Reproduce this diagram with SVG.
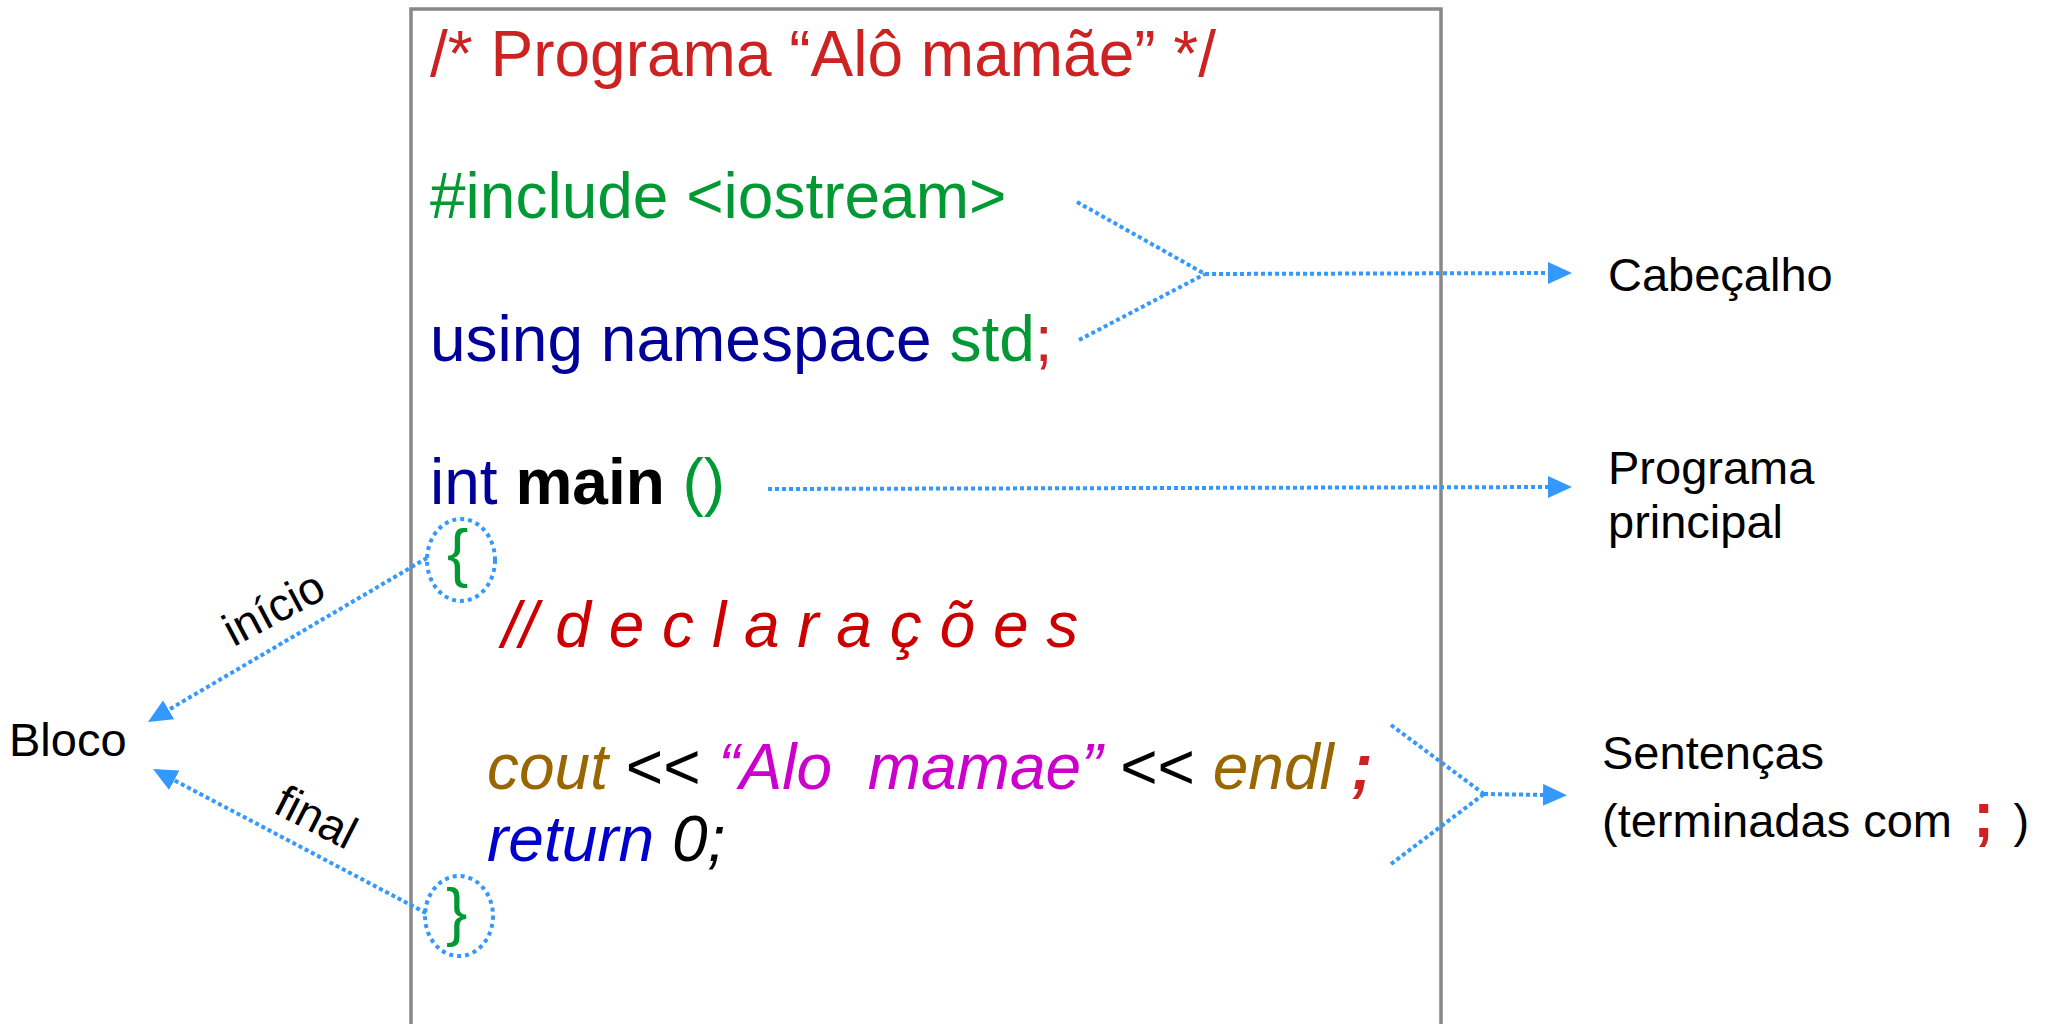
<svg xmlns="http://www.w3.org/2000/svg" width="2045" height="1024" viewBox="0 0 2045 1024">
  <style>
    .code { font-family: "Liberation Sans", Arial, sans-serif; font-size: 64px; }
    .label { font-family: "Liberation Sans", Arial, sans-serif; font-size: 47px; fill: #000; }
    .edge-label { font-family: "Liberation Sans", Arial, sans-serif; font-size: 46px; fill: #000; }
    .it { font-style: italic; }
    .b { font-weight: bold; }
    .red { fill: #CC2222; }
    .dred { fill: #CC0000; }
    .green { fill: #009933; }
    .navy { fill: #000099; }
    .blue { fill: #0000CC; }
    .brown { fill: #996600; }
    .magenta { fill: #CC00CC; }
    .black { fill: #000; }
    .dots { fill: none; stroke: #3399FF; stroke-width: 4; stroke-dasharray: 4 3; }
    .ring { fill: none; stroke: #3399FF; stroke-width: 4; stroke-dasharray: 4 4; }
  </style>
  <defs>
    <marker id="arrow" markerUnits="userSpaceOnUse" markerWidth="24" markerHeight="22" viewBox="0 0 24 22" refX="4" refY="11" orient="auto">
      <path d="M0,0 L24,11 L0,22 Z" fill="#3399FF"/>
    </marker>
  </defs>

  <rect width="2045" height="1024" fill="#fff"/>

  <!-- program listing frame (open at the bottom) -->
  <g id="code-box">
    <path d="M411,1030 V9 H1441 V1030" fill="none" stroke="#888" stroke-width="3.5"/>
    <text class="code red" x="430" y="76">/* Programa “Alô mamãe” */</text>
    <text class="code green" x="430" y="218">#include &lt;iostream&gt;</text>
    <text class="code" x="430" y="361"><tspan class="navy">using namespace </tspan><tspan class="green">std</tspan><tspan class="red">;</tspan></text>
    <text class="code" x="430" y="504"><tspan class="navy">int </tspan><tspan class="b black">main </tspan><tspan class="green">()</tspan></text>
    <text class="code it dred" x="502" y="647">// d e c l a r a ç õ e s</text>
    <text class="code it" x="487" y="789" xml:space="preserve"><tspan class="brown">cout</tspan><tspan class="black" style="font-style:normal"> &lt;&lt; </tspan><tspan class="magenta">“Alo  mamae”</tspan><tspan class="black" style="font-style:normal"> &lt;&lt; </tspan><tspan class="brown">endl </tspan><tspan class="red b">;</tspan></text>
    <text class="code it" x="487" y="861"><tspan class="blue">return </tspan><tspan class="black">0;</tspan></text>
  </g>

  <!-- block delimiters -->
  <g id="brace-open">
    <text class="code green" x="447" y="575">{</text>
    <ellipse class="ring" cx="461" cy="560" rx="34" ry="41"/>
  </g>
  <g id="brace-close">
    <text class="code green" x="446" y="934">}</text>
    <ellipse class="ring" cx="459" cy="916" rx="34" ry="40"/>
  </g>

  <!-- annotation labels -->
  <g id="cabecalho">
    <text class="label" x="1608" y="291">Cabeçalho</text>
  </g>
  <g id="programa-principal">
    <text class="label" x="1608" y="484">Programa</text>
    <text class="label" x="1608" y="538">principal</text>
  </g>
  <g id="sentencas">
    <text class="label" x="1602" y="769">Sentenças</text>
    <text class="label" x="1602" y="837" xml:space="preserve">(terminadas com <tspan class="red b" style="font-size:64px" dx="8">;</tspan><tspan dx="6"> )</tspan></text>
  </g>
  <g id="bloco">
    <text class="label" x="9" y="756">Bloco</text>
  </g>

  <!-- connectors -->
  <g id="connectors">
    <line class="dots" x1="1077" y1="202" x2="1205" y2="274"/>
    <line class="dots" x1="1079" y1="340" x2="1205" y2="274"/>
    <line class="dots" x1="1205" y1="274" x2="1552" y2="273" marker-end="url(#arrow)"/>

    <line class="dots" x1="768" y1="489" x2="1552" y2="487" marker-end="url(#arrow)"/>

    <line class="dots" x1="1391" y1="725" x2="1484" y2="794"/>
    <line class="dots" x1="1391" y1="864" x2="1484" y2="794"/>
    <line class="dots" x1="1484" y1="794" x2="1547" y2="795" marker-end="url(#arrow)"/>

    <line class="dots" x1="427" y1="558" x2="165.2" y2="711.8" marker-end="url(#arrow)"/>
    <line class="dots" x1="426" y1="913" x2="170.7" y2="778.4" marker-end="url(#arrow)"/>

    <text class="edge-label" text-anchor="middle" transform="translate(281,622) rotate(-28)">início</text>
    <text class="edge-label" text-anchor="middle" transform="translate(309,831) rotate(27)">final</text>
  </g>
</svg>
